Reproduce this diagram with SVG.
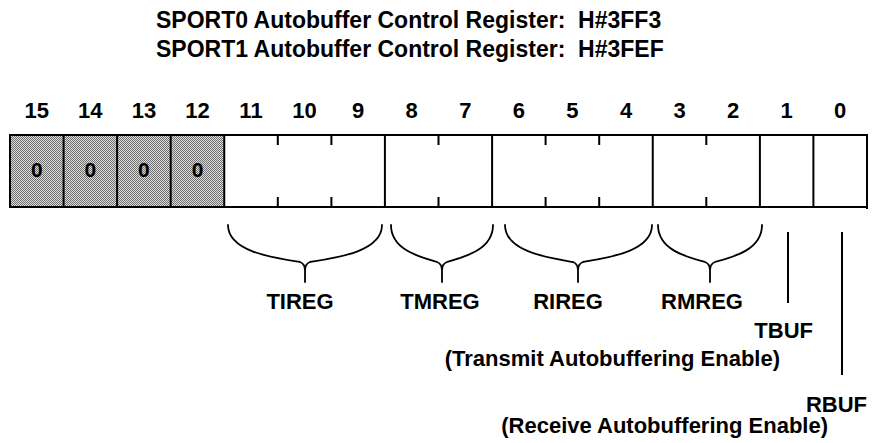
<svg xmlns="http://www.w3.org/2000/svg" width="879" height="443" viewBox="0 0 879 443">
<defs>
<pattern id="dither" width="2" height="2" patternUnits="userSpaceOnUse">
<rect width="2" height="2" fill="#dcdcdc"/>
<rect width="1" height="1" fill="#707070"/>
<rect x="1" y="1" width="1" height="1" fill="#707070"/>
</pattern>
<style>
text{font-family:"Liberation Sans",Arial,Helvetica,sans-serif;font-weight:bold;fill:#000}
.t{font-size:23px;white-space:pre}
.n{font-size:22px;text-anchor:middle}
.z{font-size:21px;text-anchor:middle}
.l{font-size:22px;text-anchor:middle}
.r{font-size:22px;text-anchor:end}
.ln{stroke:#000;stroke-width:2;fill:none}
.br{stroke:#000;stroke-width:1.8;fill:none;stroke-linecap:round}
</style>
</defs>
<g id="title">
<text class="t" x="156" y="28" xml:space="preserve">SPORT0 Autobuffer Control Register:  H#3FF3</text>
<text class="t" x="156" y="57" xml:space="preserve">SPORT1 Autobuffer Control Register:  H#3FEF</text>
</g>
<g id="bitnums">
<text class="n" x="36.8" y="118">15</text>
<text class="n" x="90.3" y="118">14</text>
<text class="n" x="143.9" y="118">13</text>
<text class="n" x="197.5" y="118">12</text>
<text class="n" x="251" y="118">11</text>
<text class="n" x="304.6" y="118">10</text>
<text class="n" x="358.2" y="118">9</text>
<text class="n" x="411.7" y="118">8</text>
<text class="n" x="465.3" y="118">7</text>
<text class="n" x="518.9" y="118">6</text>
<text class="n" x="572.4" y="118">5</text>
<text class="n" x="626" y="118">4</text>
<text class="n" x="679.6" y="118">3</text>
<text class="n" x="733.1" y="118">2</text>
<text class="n" x="786.7" y="118">1</text>
<text class="n" x="840.2" y="118">0</text>
</g>
<g id="register">
<rect x="10" y="135" width="214.25" height="72" fill="url(#dither)"/>
<rect x="10" y="135" width="857" height="72" fill="none" stroke="#000" stroke-width="2"/>
<line class="ln" x1="10" y1="207" x2="868" y2="207" stroke-width="4"/>
<line class="ln" x1="867" y1="134" x2="867" y2="209" stroke-width="3"/>
<line class="ln" x1="63.6" y1="135" x2="63.6" y2="207"/>
<line class="ln" x1="117.1" y1="135" x2="117.1" y2="207"/>
<line class="ln" x1="170.7" y1="135" x2="170.7" y2="207"/>
<line class="ln" x1="224.25" y1="135" x2="224.25" y2="207"/>
<line class="ln" x1="384.9" y1="135" x2="384.9" y2="207"/>
<line class="ln" x1="492.1" y1="135" x2="492.1" y2="207"/>
<line class="ln" x1="652.75" y1="135" x2="652.75" y2="207"/>
<line class="ln" x1="759.9" y1="135" x2="759.9" y2="207"/>
<line class="ln" x1="813.4" y1="135" x2="813.4" y2="207"/>
<path class="ln" d="M277.8,135v10M277.8,197v10M331.4,135v10M331.4,197v10M438.5,135v10M438.5,197v10M545.6,135v10M545.6,197v10M599.2,135v10M599.2,197v10M706.3,135v10M706.3,197v10"/>
<text class="z" x="36.8" y="177">0</text>
<text class="z" x="90.3" y="177">0</text>
<text class="z" x="143.9" y="177">0</text>
<text class="z" x="197.5" y="177">0</text>
</g>
<g id="connectors">
<path class="br" d="M228,225 C228,252 275,258 300,262 Q305,264 305,270 L305,282 M382,225 C382,252 335,258 310,262 Q305,264 305,270"/>
<path class="br" d="M391,225 C391,250 420,257 437,262 Q442,264 442,270 L442,282 M493,225 C493,250 464,257 447,262 Q442,264 442,270"/>
<path class="br" d="M505,225 C505,252 550,258 573,262 Q578,264 578,270 L578,282 M652,225 C652,252 606,258 583,262 Q578,264 578,270"/>
<path class="br" d="M658,225 C658,250 687,257 705,262 Q710,264 710,270 L710,282 M762,225 C762,250 733,257 715,262 Q710,264 710,270"/>
<line class="ln" x1="788" y1="232" x2="788" y2="303"/>
<line class="ln" x1="842" y1="232" x2="842" y2="375"/>
</g>
<g id="labels">
<text class="l" x="300" y="309">TIREG</text>
<text class="l" x="440" y="309">TMREG</text>
<text class="l" x="568" y="309">RIREG</text>
<text class="l" x="702" y="309">RMREG</text>
<text class="r" x="813" y="338">TBUF</text>
<text class="r" x="780" y="366">(Transmit Autobuffering Enable)</text>
<text class="r" x="867" y="412">RBUF</text>
<text class="r" x="828" y="433">(Receive Autobuffering Enable)</text>
</g>
</svg>
